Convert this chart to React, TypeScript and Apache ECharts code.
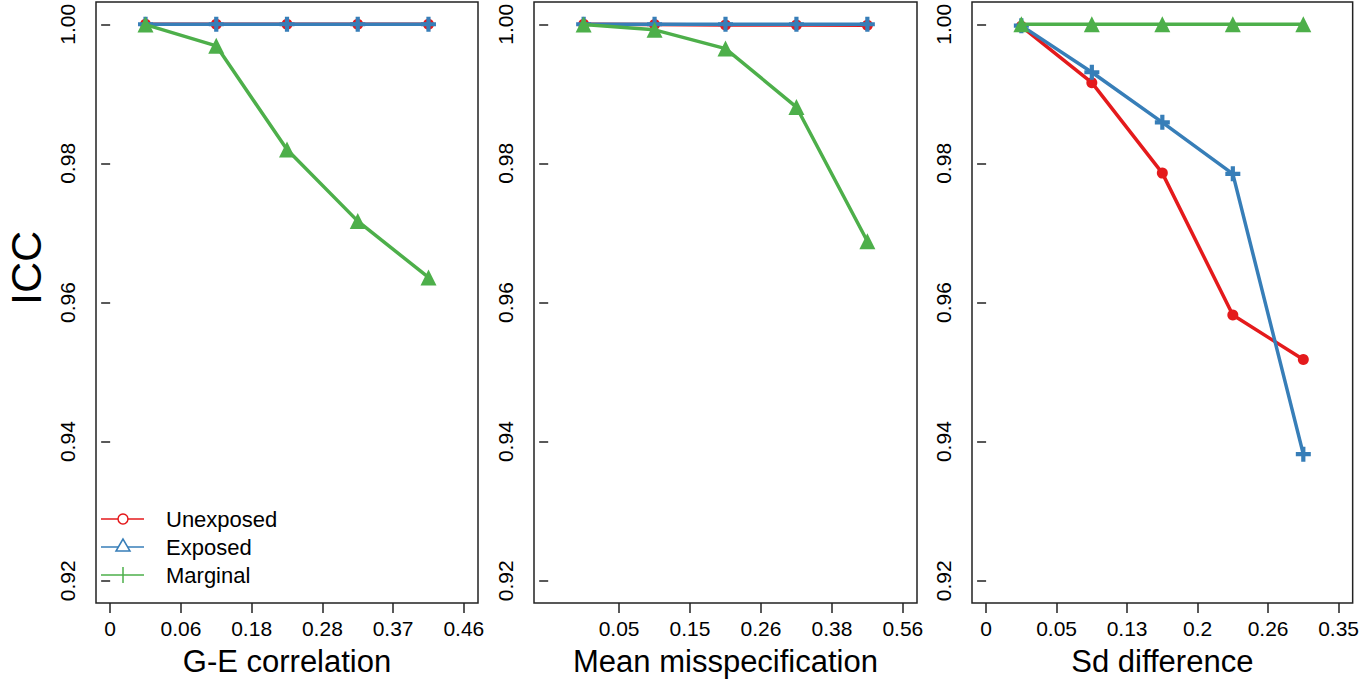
import React, { useEffect, useRef } from "react";
import * as echarts from "echarts";

// ---- data ----
const binCenters = [0.5, 1.5, 2.5, 3.5, 4.5];

const geTickPos = [0, 1, 2, 3, 4, 5];
const geTickLabels = ["0", "0.06", "0.18", "0.28", "0.37", "0.46"];
const meanTickPos = [1, 2, 3, 4, 5];
const meanTickLabels = ["0.05", "0.15", "0.26", "0.38", "0.56"];
const sdTickPos = [0, 1, 2, 3, 4, 5];
const sdTickLabels = ["0", "0.05", "0.13", "0.2", "0.26", "0.35"];

const yTicks = [0.92, 0.94, 0.96, 0.98, 1.0];

const geUnexposed = [1.0, 1.0, 1.0, 1.0, 1.0];
const geExposed = [1.0, 1.0, 1.0, 1.0, 1.0];
const geMarginal = [0.99995, 0.9969, 0.982, 0.9717, 0.9636];

const meanUnexposed = [1.0, 0.99995, 0.9999, 0.99988, 0.99985];
const meanExposed = [1.0, 1.0, 1.0, 1.0, 1.0];
const meanMarginal = [0.99995, 0.9992, 0.9965, 0.9881, 0.9688];

const sdUnexposed = [0.9997, 0.9916, 0.9786, 0.9582, 0.9518];
const sdExposed = [0.9998, 0.9931, 0.9859, 0.9785, 0.9382];
const sdMarginal = [1.0, 1.0, 1.0, 1.0, 1.0];

const xTitles = ["G-E correlation", "Mean misspecification", "Sd difference"];
const seriesNames = ["Unexposed", "Exposed", "Marginal"];

// ---- styles ----
const RED = "#E41A1C";
const BLUE = "#377EB8";
const GREEN = "#4DAF4A";
const FONT = '"Liberation Sans", Arial, sans-serif';
const PLUS = "path://M3.6,0H6.4V3.6H10V6.4H6.4V10H3.6V6.4H0V3.6H3.6Z";

export default function App() {
  const ref = useRef<HTMLDivElement>(null);

  useEffect(() => {
    if (!ref.current) return;
    const chart = echarts.init(ref.current, null, { renderer: "svg" });

    const grids = [
      { left: 96, top: 2, width: 382, height: 601 },
      { left: 534, top: 2, width: 383, height: 601 },
      { left: 972, top: 2, width: 383, height: 601 },
    ].map((g) => ({
      ...g,
      show: true,
      borderColor: "#222",
      borderWidth: 1.5,
      backgroundColor: "transparent",
      containLabel: false,
    }));

    const tickPos = [geTickPos, meanTickPos, sdTickPos];
    const tickLabels = [geTickLabels, meanTickLabels, sdTickLabels];

    const xAxes = [0, 1, 2].map((i) => ({
      type: "value",
      gridIndex: i,
      min: -0.2,
      max: 5.2,
      splitLine: { show: false },
      axisLine: { show: false },
      axisTick: {
        show: true,
        length: 10,
        customValues: tickPos[i],
        lineStyle: { color: "#222", width: 1.5 },
      },
      axisLabel: {
        show: true,
        customValues: tickPos[i],
        margin: 15,
        fontSize: 21,
        fontFamily: FONT,
        color: "#000",
        formatter: (v: number) => {
          const k = tickPos[i].indexOf(Math.round(v));
          return k >= 0 ? tickLabels[i][k] : "";
        },
      },
      name: xTitles[i],
      nameLocation: "middle",
      nameGap: 43,
      nameTextStyle: { fontSize: 31, fontFamily: FONT, color: "#000" },
    }));

    const yAxes = [0, 1, 2].map((i) => ({
      type: "value",
      gridIndex: i,
      min: 0.9168,
      max: 1.0032,
      splitLine: { show: false },
      axisLine: { show: false },
      axisTick: {
        show: true,
        length: 9,
        customValues: yTicks,
        lineStyle: { color: "#222", width: 1.5 },
      },
      axisLabel: {
        show: true,
        customValues: yTicks,
        rotate: 90,
        margin: 18,
        fontSize: 21,
        fontFamily: FONT,
        color: "#000",
        formatter: (v: number) => v.toFixed(2),
      },
    }));

    const panelData = [
      [geUnexposed, geExposed, geMarginal],
      [meanUnexposed, meanExposed, meanMarginal],
      [sdUnexposed, sdExposed, sdMarginal],
    ];
    const colors = [RED, BLUE, GREEN];
    const symbols = ["circle", PLUS, "triangle"];
    const sizes = [11, 15, 16];

    const series: any[] = [];
    panelData.forEach((arrs, p) => {
      arrs.forEach((vals, s) => {
        series.push({
          type: "line",
          name: seriesNames[s],
          xAxisIndex: p,
          yAxisIndex: p,
          data: vals.map((v, k) => [binCenters[k], v]),
          symbol: symbols[s],
          symbolSize: sizes[s],
          showSymbol: true,
          lineStyle: { color: colors[s], width: 3.5 },
          itemStyle: { color: colors[s], borderWidth: 0 },
          clip: false,
          z: 2 + s,
        });
      });
    });

    const legendRows = [519, 547, 575];
    const lx1 = 101;
    const lx2 = 144;
    const mx = 123;
    const graphic: any[] = [
      {
        type: "text",
        x: 26,
        y: 268,
        rotation: Math.PI / 2,
        style: {
          text: "ICC",
          font: `43px ${FONT}`,
          lineHeight: 34,
          textAlign: "center",
          textVerticalAlign: "middle",
          fill: "#000",
        },
      },
    ];
    legendRows.forEach((y, i) => {
      graphic.push({
        type: "line",
        shape: { x1: lx1, y1: y, x2: lx2, y2: y },
        style: { stroke: colors[i], lineWidth: 1.5 },
      });
      graphic.push({
        type: "text",
        x: 166,
        y: y,
        style: {
          text: seriesNames[i],
          font: `22px ${FONT}`,
          textVerticalAlign: "middle",
          fill: "#000",
        },
      });
    });
    graphic.push({
      type: "circle",
      shape: { cx: mx, cy: legendRows[0], r: 5 },
      style: { stroke: RED, fill: "#fff", lineWidth: 1.5 },
    });
    graphic.push({
      type: "polygon",
      shape: {
        points: [
          [mx, legendRows[1] - 8],
          [mx - 7, legendRows[1] + 4],
          [mx + 7, legendRows[1] + 4],
        ],
      },
      style: { stroke: BLUE, fill: "#fff", lineWidth: 1.5 },
    });
    graphic.push({
      type: "line",
      shape: { x1: mx, y1: legendRows[2] - 8, x2: mx, y2: legendRows[2] + 8 },
      style: { stroke: GREEN, lineWidth: 1.5 },
    });

    chart.setOption({
      animation: false,
      backgroundColor: "#fff",
      grid: grids,
      xAxis: xAxes,
      yAxis: yAxes,
      series,
      graphic,
    });

    return () => chart.dispose();
  }, []);

  return (
    <div
      ref={ref}
      style={{ position: "fixed", left: 0, top: 0, width: 1362, height: 682 }}
    />
  );
}
